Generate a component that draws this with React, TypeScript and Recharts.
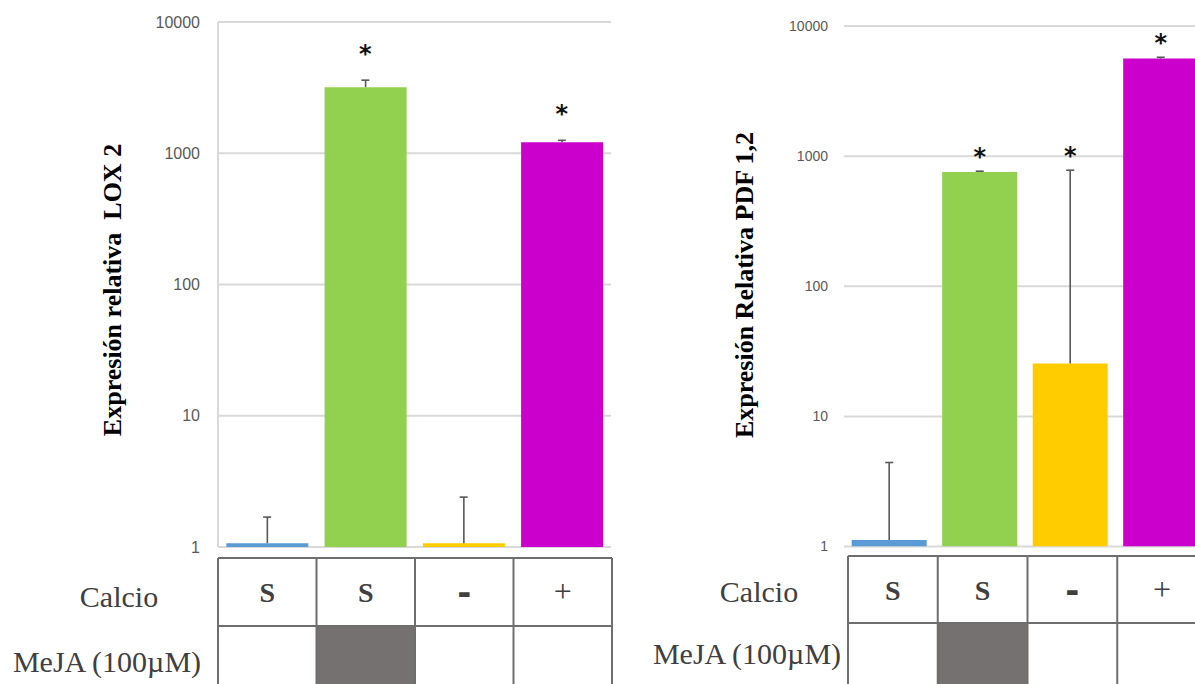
import React from 'react';
import { BarChart, Bar, XAxis, YAxis, CartesianGrid, Cell, ErrorBar, ReferenceDot } from 'recharts';

// Treatments, in plotting order
const treatments = ['Control', 'MeJA', 'Sin calcio', 'Con calcio'];
const barColors = ['#5b9bd5', '#92d050', '#ffcc00', '#cc00cc'];
const yTicks = [1, 10, 100, 1000, 10000];

// LOX 2 relative expression (mean, upper error)
const lox2Mean = [1.07, 3190, 1.07, 1215];
const lox2Err = [0.62, 415, 1.33, 40];
const lox2Significant = [false, true, false, true];

// PDF 1,2 relative expression (mean, upper error)
const pdfMean = [1.12, 756, 25.5, 5620];
const pdfErr = [3.3, 10, 754, 130];
const pdfSignificant = [false, true, true, true];

// Treatment design table
const calcioRow = ['S', 'S', '-', '+'];
const mejaRow = [false, true, false, false];

const TICK_COLOR = '#595959';
const GRID_COLOR = '#d9d9d9';
const TEXT_COLOR = '#404040';
const ERR_COLOR = '#595959';

type ChartProps = {
  means: number[];
  errs: number[];
  significant: boolean[];
  left: number;
  width: number;
  height: number;
  margin: { top: number; right: number; bottom: number; left: number };
  yAxisWidth: number;
  tickFontSize: number;
  tickMargin: number;
  showAxisLine: boolean;
  title: string;
  titleX: number;
  titleY: number;
  starLift: number;
};

function ExpressionChart(p: ChartProps) {
  const rows = treatments.map((name, i) => ({
    name,
    value: p.means[i],
    err: [0, p.errs[i]],
    top: p.means[i] + p.errs[i],
  }));

  const renderTitle = () => (
    <text
      x={p.titleX}
      y={p.titleY}
      transform={`rotate(-90 ${p.titleX} ${p.titleY})`}
      textAnchor="middle"
      fontFamily="'Liberation Serif', 'Times New Roman', serif"
      fontWeight="bold"
      fontSize={26}
      fill="#000"
      style={{ whiteSpace: 'pre' }}
    >
      {p.title}
    </text>
  );

  return (
    <div style={{ position: 'absolute', left: p.left, top: 0 }}>
      <BarChart
        width={p.width}
        height={p.height}
        data={rows}
        margin={p.margin}
        barCategoryGap="8.5%"
      >
        <CartesianGrid vertical={false} stroke={GRID_COLOR} strokeWidth={2} />
        <XAxis dataKey="name" hide />
        <YAxis
          type="number"
          scale="log"
          domain={[1, 10000]}
          ticks={yTicks}
          allowDataOverflow
          width={p.yAxisWidth}
          tickLine={false}
          tickSize={0}
          tickMargin={p.tickMargin}
          axisLine={p.showAxisLine ? { stroke: GRID_COLOR, strokeWidth: 2 } : false}
          tick={{ fill: TICK_COLOR, fontSize: p.tickFontSize, fontFamily: "'Liberation Sans', Arial, sans-serif" }}
          label={renderTitle}
        />
        <Bar dataKey="value" isAnimationActive={false}>
          {rows.map((r, i) => (
            <Cell key={r.name} fill={barColors[i]} />
          ))}
          {/* upward error whisker only; its cap is drawn separately below */}
          <ErrorBar dataKey="err" direction="y" width={0} stroke={ERR_COLOR} strokeWidth={1.6} />
        </Bar>
        {rows.map((r) => (
          <ReferenceDot
            key={`cap-${r.name}`}
            x={r.name}
            y={r.top}
            r={0}
            isFront
            shape={(sp: any) => (
              <line x1={sp.cx - 4} x2={sp.cx + 4} y1={sp.cy} y2={sp.cy} stroke={ERR_COLOR} strokeWidth={1.6} />
            )}
          />
        ))}
        {rows.map((r, i) =>
          p.significant[i] ? (
            <ReferenceDot
              key={`star-${r.name}`}
              x={r.name}
              y={r.top}
              r={0}
              isFront
              shape={(sp: any) => (
                <text
                  x={sp.cx}
                  y={sp.cy - p.starLift}
                  textAnchor="middle"
                  fontFamily="'DejaVu Sans', sans-serif"
                  fontWeight="bold"
                  fontSize={24}
                  fill="#111"
                >
                  *
                </text>
              )}
            />
          ) : null
        )}
      </BarChart>
    </div>
  );
}

type TableProps = {
  left: number;
  top: number;
  colWidth: number;
  rowHeight: number;
  labelX: number;
  calcioY: number;
  mejaY: number;
};

function DesignTable(t: TableProps) {
  const right = t.left + t.colWidth * calcioRow.length;
  const bottom = t.top + t.rowHeight * 2 + 20;
  const serif = "'Liberation Serif', 'Times New Roman', serif";
  return (
    <g>
      {mejaRow.map((on, i) =>
        on ? (
          <rect
            key={`fill-${i}`}
            x={t.left + i * t.colWidth}
            y={t.top + t.rowHeight}
            width={t.colWidth}
            height={bottom - t.top - t.rowHeight}
            fill="#767171"
          />
        ) : null
      )}
      <line x1={t.left} x2={right} y1={t.top} y2={t.top} stroke="#6e6e6e" strokeWidth={2} />
      <line x1={t.left} x2={right} y1={t.top + t.rowHeight} y2={t.top + t.rowHeight} stroke="#6e6e6e" strokeWidth={2} />
      {calcioRow.map((_, i) => (
        <line
          key={`v-${i}`}
          x1={t.left + i * t.colWidth}
          x2={t.left + i * t.colWidth}
          y1={t.top}
          y2={bottom}
          stroke="#6e6e6e"
          strokeWidth={2}
        />
      ))}
      <line x1={right} x2={right} y1={t.top} y2={bottom} stroke="#6e6e6e" strokeWidth={2} />
      {calcioRow.map((s, i) => {
        const cx = t.left + (i + 0.5) * t.colWidth;
        const isDash = s === '-';
        return (
          <text
            key={`c-${i}`}
            x={cx}
            y={t.top + t.rowHeight / 2 + (isDash ? 12 : s === '+' ? 10 : 10)}
            textAnchor="middle"
            fontFamily={isDash ? "'DejaVu Sans', sans-serif" : serif}
            fontWeight={s === '+' ? 'normal' : 'bold'}
            fontSize={isDash ? 34 : s === '+' ? 32 : 28}
            fill={TEXT_COLOR}
          >
            {s}
          </text>
        );
      })}
      <text x={t.labelX} y={t.calcioY} textAnchor="middle" fontFamily={serif} fontSize={30} fill={TEXT_COLOR}>
        Calcio
      </text>
      <text x={t.labelX - 12} y={t.mejaY} textAnchor="middle" fontFamily={serif} fontSize={30} fill={TEXT_COLOR}>
        MeJA (100µM)
      </text>
    </g>
  );
}

export default function App() {
  return (
    <div
      style={{
        position: 'absolute',
        left: 0,
        top: 0,
        width: 1195,
        height: 684,
        overflow: 'hidden',
        background: '#fff',
      }}
    >
      <ExpressionChart
        means={lox2Mean}
        errs={lox2Err}
        significant={lox2Significant}
        left={0}
        width={620}
        height={560}
        margin={{ top: 22, right: 9, bottom: 13, left: 0 }}
        yAxisWidth={218}
        tickFontSize={16}
        tickMargin={18}
        showAxisLine
        title="Expresión relativa  LOX 2"
        titleX={121}
        titleY={290}
        starLift={18}
      />
      <ExpressionChart
        means={pdfMean}
        errs={pdfErr}
        significant={pdfSignificant}
        left={620}
        width={600}
        height={560}
        margin={{ top: 26, right: 14, bottom: 13.5, left: 0 }}
        yAxisWidth={224}
        tickFontSize={14}
        tickMargin={16}
        showAxisLine={false}
        title="Expresión Relativa PDF 1,2"
        titleX={133}
        titleY={285}
        starLift={6}
      />
      <svg
        width={1195}
        height={684}
        style={{ position: 'absolute', left: 0, top: 0, pointerEvents: 'none' }}
      >
        <DesignTable left={218} top={558} colWidth={98.5} rowHeight={68} labelX={119} calcioY={607} mejaY={672} />
        <DesignTable left={848} top={556} colWidth={89.75} rowHeight={67} labelX={759} calcioY={602} mejaY={664} />
      </svg>
    </div>
  );
}
